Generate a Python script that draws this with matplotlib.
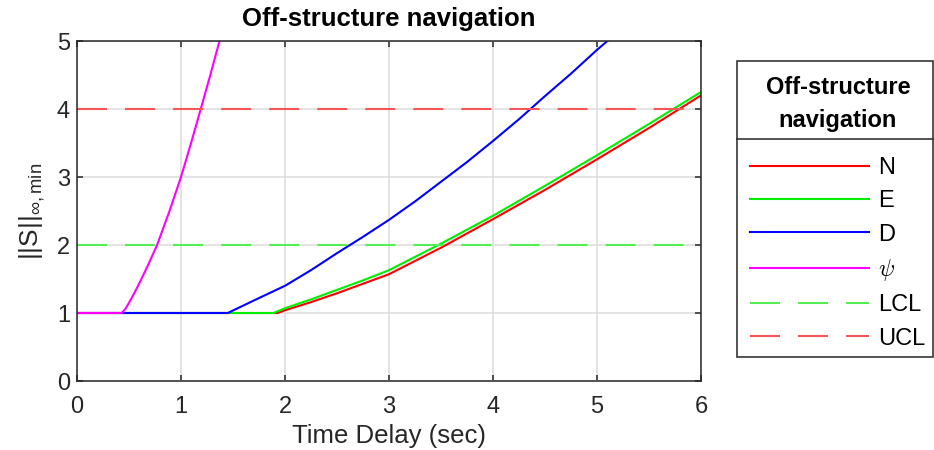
import matplotlib
matplotlib.use('Agg')
import matplotlib.pyplot as plt
from matplotlib.patches import Rectangle
from matplotlib.lines import Line2D

# values
t_N = [0, 1.93, 2.0, 2.25, 2.5, 2.75, 3.0, 3.5, 4.0, 4.5, 5.0, 5.5, 6.0]
S_N = [1, 1, 1.04, 1.16, 1.29, 1.43, 1.57, 1.96, 2.38, 2.81, 3.26, 3.72, 4.20]

t_E = [0, 1.89, 2.0, 2.25, 2.5, 2.75, 3.0, 3.5, 4.0, 4.5, 5.0, 5.5, 6.0]
S_E = [1, 1, 1.07, 1.20, 1.34, 1.48, 1.63, 2.02, 2.43, 2.87, 3.32, 3.78, 4.25]

t_D = [0, 1.45, 1.6, 1.75, 2.0, 2.25, 2.5, 2.75, 3.0, 3.25, 3.5, 3.75, 4.0, 4.25, 4.5, 4.75, 5.0, 5.1]
S_D = [1, 1, 1.11, 1.22, 1.40, 1.63, 1.88, 2.12, 2.37, 2.64, 2.93, 3.22, 3.53, 3.85, 4.19, 4.52, 4.87, 5.0]

t_psi = [0, 0.43, 0.465, 0.5, 0.55, 0.6, 0.685, 0.77, 0.885, 1.0, 1.095, 1.19, 1.28, 1.37]
S_psi = [1, 1, 1.06, 1.15, 1.29, 1.44, 1.71, 2.0, 2.48, 3.0, 3.49, 4.0, 4.49, 5.0]

LCL = 2
UCL = 4
x_limits = [0, 6]
labels = ['N', 'E', 'D', r'$\psi$', 'LCL', 'UCL']
title = 'Off-structure navigation'

plt.rcParams['font.family'] = ['Liberation Sans', 'DejaVu Sans']
plt.rcParams['mathtext.fontset'] = 'custom'
plt.rcParams['mathtext.rm'] = 'Liberation Sans'
plt.rcParams['mathtext.it'] = 'Liberation Sans:italic'
plt.rcParams['lines.scale_dashes'] = False

fig = plt.figure(figsize=(9.34, 4.5), dpi=100)
ax = fig.add_axes([77/934, 69/450, 624/934, 340/450])

lw = 1.5
dash = (0, (21.6, 13))
ax.plot(t_N, S_N, color='#ff0000', lw=lw, label=labels[0])
ax.plot(t_E, S_E, color='#00ee00', lw=lw, label=labels[1])
ax.plot(t_D, S_D, color='#0000ff', lw=lw, label=labels[2])
ax.plot(t_psi, S_psi, color='#ff00ff', lw=lw, label=labels[3])
ax.plot(x_limits, [LCL, LCL], color='#55ee55', lw=lw, ls=dash, label=labels[4])
ax.plot(x_limits, [UCL, UCL], color='#f55555', lw=lw, ls=dash, label=labels[5])

ax.set_xlim(0, 6)
ax.set_ylim(0, 5)
ax.set_xticks(range(0, 7))
ax.set_yticks(range(0, 6))
ax.grid(True, color='#e0e0e0', lw=1.3)
ax.set_axisbelow(True)
for s in ax.spines.values():
    s.set_color('#262626')
    s.set_linewidth(1.1)
ax.tick_params(direction='in', top=True, right=True, length=4, width=1.1,
               color='#262626', labelsize=17, labelcolor='#262626')
ax.tick_params(axis='x', pad=11)
ax.tick_params(axis='y', pad=5)

ax.set_title(title, fontsize=18.5, fontweight='bold', pad=11)
ax.set_xlabel('Time Delay (sec)', fontsize=18.5, color='#262626', labelpad=4)
ax.set_ylabel(r'||S||$_{\infty,\mathrm{min}}$', fontsize=19, color='#262626', labelpad=7)

# legend box with a title section
fig.add_artist(Rectangle((737/934, 93/450), 196/934, 296/450, transform=fig.transFigure,
                         fill=False, edgecolor='#262626', lw=1.1))
fig.add_artist(Line2D([737/934, 933/934], [311/450, 311/450], transform=fig.transFigure,
                      color='#262626', lw=1.1))
fig.text(838/934, 346/450, 'Off-structure\nnavigation', ha='center', va='center',
         fontsize=17, fontweight='bold', linespacing=1.55)

handles, labs = ax.get_legend_handles_labels()
leg = fig.legend(handles, labs, loc='upper left', bbox_to_anchor=(750/934, 293/450),
                 frameon=False, fontsize=17, handlelength=5.04, handletextpad=0.38,
                 labelspacing=0.48, borderpad=0, borderaxespad=0)
leg.get_texts()[3].set_math_fontfamily('cm')

fig.savefig('out.png', dpi=100)
